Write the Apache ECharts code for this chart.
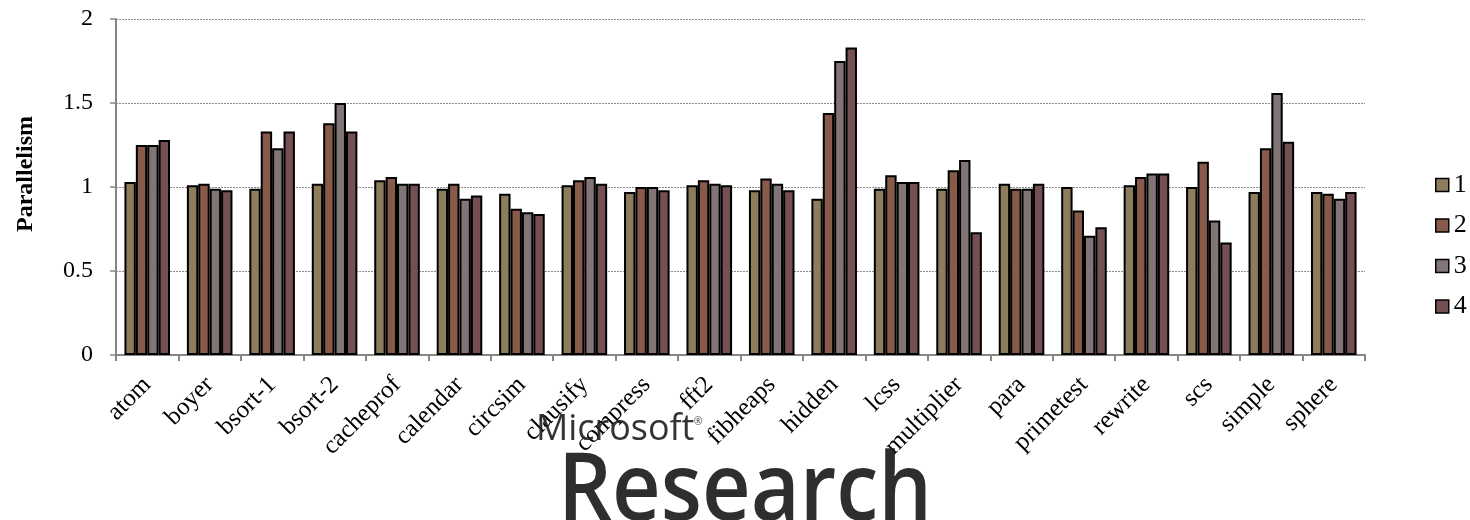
<!DOCTYPE html>
<html>
<head>
<meta charset="utf-8">
<script src="https://cdn.jsdelivr.net/npm/echarts@6/dist/echarts.min.js"></script>
<style>
html,body{margin:0;padding:0;background:#fff;}
#chart{width:1470px;height:520px;}
</style>
</head>
<body>
<div id="chart"></div>
<script>
const categories = ['atom','boyer','bsort-1','bsort-2','cacheprof','calendar','circsim','clausify','compress','fft2','fibheaps','hidden','lcss','multiplier','para','primetest','rewrite','scs','simple','sphere'];
const seriesNames = ['1','2','3','4'];
const s1 = [1.03,1.01,0.99,1.02,1.04,0.99,0.96,1.01,0.97,1.01,0.98,0.93,0.99,0.99,1.02,1.00,1.01,1.00,0.97,0.97];
const s2 = [1.25,1.02,1.33,1.38,1.06,1.02,0.87,1.04,1.00,1.04,1.05,1.44,1.07,1.10,0.99,0.86,1.06,1.15,1.23,0.96];
const s3 = [1.25,0.99,1.23,1.50,1.02,0.93,0.85,1.06,1.00,1.02,1.02,1.75,1.03,1.16,0.99,0.71,1.08,0.80,1.56,0.93];
const s4 = [1.28,0.98,1.33,1.33,1.02,0.95,0.84,1.02,0.98,1.01,0.98,1.83,1.03,0.73,1.02,0.76,1.08,0.67,1.27,0.97];
const yTicks = [0, 0.5, 1, 1.5, 2];
const colors = ['#8e7d5d', '#875a4a', '#817575', '#745052'];

const allData = [s1, s2, s3, s4];
const serif = '"Liberation Serif", "DejaVu Serif", serif';
const sans = '"Open Sans", "Noto Sans", sans-serif';

const chart = echarts.init(document.getElementById('chart'), null, {renderer: 'canvas'});
chart.setOption({
  animation: false,
  backgroundColor: '#ffffff',
  grid: {left: 116, right: 105, top: 19, bottom: 165, containLabel: false},
  legend: {
    orient: 'vertical',
    left: 1435,
    top: 172,
    padding: 0,
    itemWidth: 13,
    itemHeight: 13,
    itemGap: 14.5,
    icon: 'rect',
    data: seriesNames,
    textStyle: {fontFamily: serif, fontSize: 26, color: '#000', lineHeight: 13, padding: [0, 0, 12, 0]},
    itemStyle: {borderColor: '#000', borderWidth: 1.5}
  },
  xAxis: {
    type: 'category',
    data: categories,
    axisLine: {lineStyle: {color: '#868686', width: 2}},
    axisTick: {show: true, length: 6, lineStyle: {color: '#868686', width: 2}},
    axisLabel: {rotate: 45, margin: 26, fontFamily: serif, fontSize: 25, color: '#000', interval: 0}
  },
  yAxis: {
    type: 'value',
    min: 0,
    max: 2,
    interval: 0.5,
    axisLine: {show: true, lineStyle: {color: '#868686', width: 2}},
    axisTick: {show: true, length: 6, lineStyle: {color: '#868686', width: 1.5}},
    axisLabel: {
      margin: 23,
      fontFamily: serif,
      fontSize: 24,
      color: '#000',
      formatter: function (v) { return yTicks.indexOf(v) >= 0 ? String(v) : ''; }
    },
    splitLine: {show: true, lineStyle: {color: '#8a8a8a', type: [2, 1], width: 1}}
  },
  series: seriesNames.map(function (n, i) {
    return {
      name: n,
      type: 'bar',
      data: allData[i],
      barGap: '0%',
      barCategoryGap: '27%',
      itemStyle: {color: colors[i], borderColor: '#000', borderWidth: 2}
    };
  }),
  graphic: [
    {
      type: 'text',
      x: 26, y: 174,
      rotation: Math.PI / 2,
      style: {
        text: 'Parallelism',
        fontFamily: serif,
        fontSize: 24,
        fontWeight: 'bold',
        fill: '#000',
        align: 'center',
        verticalAlign: 'middle'
      }
    },
    {
      type: 'text',
      x: 536, y: 448,
      scaleX: 0.97,
      z: 100,
      style: {
        text: 'Microsoft',
        fontFamily: sans,
        fontSize: 37,
        fill: 'rgba(35,35,35,0.92)',
        align: 'left',
        verticalAlign: 'bottom'
      }
    },
    {
      type: 'text',
      x: 694, y: 422,
      z: 100,
      style: {
        text: '®',
        fontFamily: sans,
        fontSize: 10,
        fill: 'rgba(40,40,40,0.9)',
        align: 'left',
        verticalAlign: 'middle'
      }
    },
    {
      type: 'text',
      x: 558, y: 540,
      scaleX: 0.9,
      z: 100,
      style: {
        text: 'Research',
        fontFamily: sans,
        fontSize: 94,
        fontWeight: 600,
        fill: 'rgba(30,30,30,0.93)',
        align: 'left',
        verticalAlign: 'bottom'
      }
    }
  ]
});
</script>
</body>
</html>
